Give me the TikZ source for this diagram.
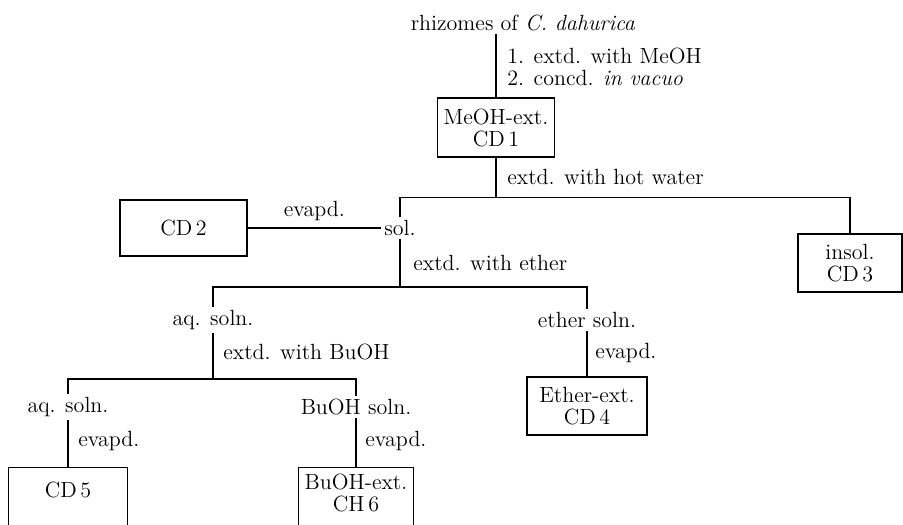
\documentclass[tikz,border=0pt]{standalone}
\usetikzlibrary{positioning}

\begin{document}
\begin{tikzpicture}[
  x=0.5pt, y=-0.5pt,
  every node/.style={font=\fontsize{11}{11}\selectfont},
  box/.style={draw, line width=0.7pt, align=center, inner sep=2pt},
  cutbox/.style={draw, line width=0.7pt, anchor=north, minimum height=45pt},
  item/.style={inner sep=1.5pt, align=center},
  steplbl/.style={anchor=west, inner sep=0pt, align=left},
  link/.style={line width=0.7pt}
]
\useasboundingbox (0,0) rectangle (903,524);

% Starting material and methanol extract
\node[item] (src) at (523,23) {rhizomes of \textit{C. dahurica}};
\node[box, minimum width=58.5pt, minimum height=29.5pt] (meoh) at (496,127.5) {MeOH-ext.\\CD\,1};
\node[steplbl] (lmeoh) at (507,67) {1. extd. with MeOH\\2. concd. \textit{in vacuo}};
\draw[link] (meoh.north) -- (meoh.north |- src.south);

% Hot water split
\coordinate (j1) at ([yshift=-20pt]meoh.south);
\node[steplbl] (lhot) at (507,177) {extd. with hot water};
\node[item] (sol) at (400,228) {sol.};
\node[box, minimum width=52pt, minimum height=29pt] (insol) at (850,263) {insol.\\CD\,3};
\node[box, minimum width=63.5pt, minimum height=28pt] (cd2) at (183.5,228) {CD\,2};
\draw[link] (meoh.south) -- (j1);
\draw[link] (sol.north) |- (j1) -| (insol.north);
\draw[link] (cd2) -- node[item, above=2pt] (levapa) {evapd.} (sol);

% Ether split
\coordinate (j2) at (400,287);
\node[steplbl] (lether) at (413,263) {extd. with ether};
\node[item] (aqa) at (213,320) {aq. soln.};
\node[item] (eth) at (587,320) {ether soln.};
\node[box, minimum width=60pt, minimum height=29pt] (ethx) at (587,406) {Ether-ext.\\CD\,4};
\draw[link] (sol.south) -- (j2);
\draw[link] (aqa.north) |- (j2) -| (eth.north);
\draw[link] (eth.south) -- (ethx.north);
\node[steplbl] (levapb) at (595,353) {evapd.};

% BuOH split (boxes run off the page)
\coordinate (j3) at (213,379);
\node[steplbl] (lbuoh) at (223,352) {extd. with BuOH};
\node[item] (aqb) at (68,407) {aq. soln.};
\node[item] (bus) at (356,407) {BuOH soln.};
\draw[link] (aqa.south) -- (j3);
\draw[link] (aqb.north) |- (j3) -| (bus.north);

\node[cutbox, minimum width=59.5pt] (cd5) at (68,467) {};
\node[item] (cd5t) at (68,490) {CD\,5};
\draw[link] (aqb.south) -- (cd5.north);
\node[steplbl] (levapc) at (78,441) {evapd.};

\node[cutbox, minimum width=57.5pt] (bux) at (356,467) {};
\node[item] (buxt) at (356,493) {BuOH-ext.\\CH\,6};
\draw[link] (bus.south) -- (bux.north);
\node[steplbl] (levapd) at (365,441) {evapd.};
\end{tikzpicture}
\end{document}
